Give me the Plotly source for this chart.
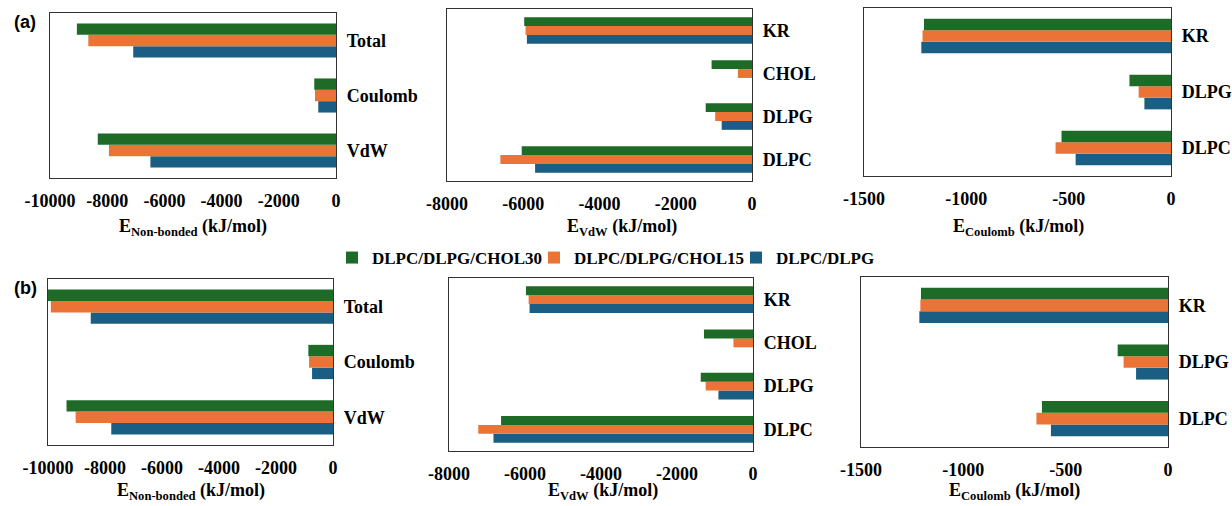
import plotly.graph_objects as go

# ---------------- data ----------------
series = ["DLPC/DLPG/CHOL30", "DLPC/DLPG/CHOL15", "DLPC/DLPG"]
colors = ["#1d6b27", "#eb7335", "#1b5e84"]

nb_cats = ["VdW", "Coulomb", "Total"]          # bottom -> top
vdw_cats = ["DLPC", "DLPG", "CHOL", "KR"]
coul_cats = ["DLPC", "DLPG", "KR"]

# panel (a)
a_nb_chol30 = [-8330, -760, -9060]
a_nb_chol15 = [-7940, -735, -8660]
a_nb_dlpg = [-6490, -620, -7090]
a_vdw_chol30 = [-6040, -1215, -1060, -5975]
a_vdw_chol15 = [-6600, -965, -370, -5940]
a_vdw_dlpg = [-5690, -795, None, -5905]
a_coul_chol30 = [-535, -203, -1207]
a_coul_chol15 = [-564, -158, -1214]
a_coul_dlpg = [-466, -130, -1220]

# panel (b)
b_nb_chol30 = [-9350, -865, -10210]
b_nb_chol15 = [-9030, -840, -9900]
b_nb_dlpg = [-7780, -735, -8500]
b_vdw_chol30 = [-6630, -1375, -1290, -5975]
b_vdw_chol15 = [-7230, -1245, -515, -5905]
b_vdw_dlpg = [-6830, -910, None, -5880]
b_coul_chol30 = [-616, -246, -1207]
b_coul_chol15 = [-643, -217, -1210]
b_coul_dlpg = [-572, -156, -1215]

nb_ticks = [-10000, -8000, -6000, -4000, -2000, 0]
vdw_ticks = [-8000, -6000, -4000, -2000, 0]
coul_ticks = [-1500, -1000, -500, 0]

nb_title = "E<sub>Non-bonded</sub> (kJ/mol)"
vdw_title = "E<sub>VdW</sub> (kJ/mol)"
coul_title = "E<sub>Coulomb</sub> (kJ/mol)"

W, H = 1232, 506

panels = [
    # cats, values, ticks, range, title, x px, y px (top, bottom), title pos px, row
    (nb_cats, [a_nb_chol30, a_nb_chol15, a_nb_dlpg], nb_ticks, [-10000, 0], nb_title, (50, 336), (13, 178), (193, 227), 0),
    (vdw_cats, [a_vdw_chol30, a_vdw_chol15, a_vdw_dlpg], vdw_ticks, [-8000, 0], vdw_title, (447, 752), (9, 181), (622, 227), 0),
    (coul_cats, [a_coul_chol30, a_coul_chol15, a_coul_dlpg], coul_ticks, [-1500, 0], coul_title, (864, 1171), (8, 176), (1018, 227), 0),
    (nb_cats, [b_nb_chol30, b_nb_chol15, b_nb_dlpg], nb_ticks, [-10000, 0], nb_title, (48, 333), (279, 445), (191, 491), 1),
    (vdw_cats, [b_vdw_chol30, b_vdw_chol15, b_vdw_dlpg], vdw_ticks, [-8000, 0], vdw_title, (449, 753), (278, 451), (603, 491), 1),
    (coul_cats, [b_coul_chol30, b_coul_chol15, b_coul_dlpg], coul_ticks, [-1500, 0], coul_title, (861, 1168), (277, 447), (1014, 491), 1),
]

serif = "Liberation Serif"
bold18 = dict(family=serif, size=18, color="black", weight="bold")
fig = go.Figure()
layout = {}
annotations = []

for i, (cats, vals, ticks, rng, title, xpx, ypx, tpos, row) in enumerate(panels):
    n = "" if i == 0 else str(i + 1)
    xa, ya = "x" + n, "y" + n
    # add in reverse so that CHOL30 (green) sits on top in each group
    for s in [2, 1, 0]:
        fig.add_trace(go.Bar(
            y=cats, x=vals[s], orientation="h", name=series[s],
            marker=dict(color=colors[s], line=dict(width=0)),
            legendgroup=series[s], showlegend=(i == 0),
            xaxis=xa, yaxis=ya,
        ))
    layout["xaxis" + n] = dict(
        domain=[xpx[0] / W, xpx[1] / W], anchor=ya, range=rng,
        tickvals=ticks, ticktext=[str(t) for t in ticks],
        showgrid=False, zeroline=False, showline=True, linecolor="#333333",
        linewidth=1.2, mirror=True, ticks="", automargin=False,
        ticklabelstandoff=6,
        tickfont=bold18,
    )
    layout["yaxis" + n] = dict(
        domain=[1 - ypx[1] / H, 1 - ypx[0] / H], anchor=xa, side="right",
        categoryorder="array", categoryarray=cats, automargin=False,
        showgrid=False, zeroline=False, showline=True, linecolor="#333333",
        linewidth=1.2, mirror=True, ticks="", ticklabelstandoff=6,
        tickfont=bold18,
    )
    annotations.append(dict(
        text=title, x=tpos[0] / W, y=1 - tpos[1] / H, xref="paper", yref="paper",
        xanchor="center", yanchor="middle", showarrow=False, font=bold18,
    ))

annotations += [
    dict(text="(a)", x=12 / W, y=1 - 22 / H, xref="paper", yref="paper",
         xanchor="left", yanchor="middle", showarrow=False,
         font=dict(family="Liberation Sans", size=18, color="black", weight="bold")),
    dict(text="(b)", x=12 / W, y=1 - 288 / H, xref="paper", yref="paper",
         xanchor="left", yanchor="middle", showarrow=False,
         font=dict(family="Liberation Sans", size=18, color="black", weight="bold")),
]

fig.update_layout(**layout)
fig.update_layout(
    width=W, height=H, margin=dict(l=0, r=0, t=0, b=0, autoexpand=False),
    paper_bgcolor="white", plot_bgcolor="white",
    barmode="group", bargap=0.38, bargroupgap=0,
    legend=dict(orientation="h", traceorder="reversed", x=332 / W, xanchor="left",
                y=1 - 258 / H, yanchor="middle", bgcolor="rgba(0,0,0,0)",
                font=dict(family=serif, size=17, color="black", weight="bold"),
                itemwidth=30, entrywidth=157, entrywidthmode="pixels"),
    annotations=annotations,
)

fig.write_html("out.html")
